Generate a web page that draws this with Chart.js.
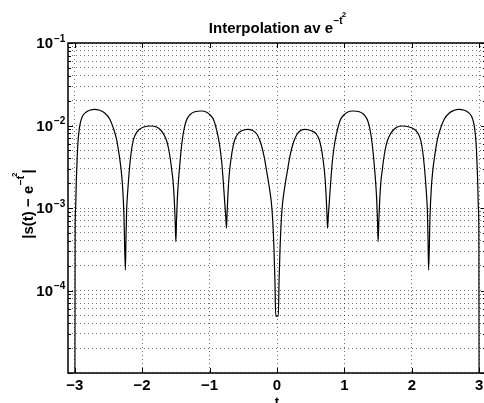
<!DOCTYPE html>
<html lang="sv">
<head>
<meta charset="UTF-8">
<title>Interpolation av e^-t^2</title>
<script src="https://cdn.jsdelivr.net/npm/chart.js"></script>
<style>
  html, body { margin: 0; padding: 0; background: #fff; overflow: hidden; }
  #wrap { position: relative; width: 490px; height: 403px; }
</style>
</head>
<body>
<div id="wrap"><canvas id="graf"></canvas></div>
<script>
// t och felet |s(t) - e^{-t^2}| (en rad per båge)
const tValues = [
  -3.000, -2.994, -2.987, -2.976, -2.964, -2.953, -2.935, -2.912, -2.883, -2.838, -2.779, -2.705, -2.631, -2.556, -2.482, -2.423, -2.378, -2.341, -2.312, -2.289, -2.270, -2.249,
  -2.240, -2.230, -2.215, -2.200, -2.185, -2.160, -2.134, -2.104, -2.052, -1.978, -1.878, -1.785, -1.726, -1.674, -1.636, -1.607, -1.580, -1.558, -1.543, -1.525, -1.512, -1.500,
  -1.491, -1.479, -1.467, -1.454, -1.436, -1.414, -1.384, -1.347, -1.295, -1.220, -1.122, -1.043, -0.984, -0.939, -0.899, -0.869, -0.843, -0.820, -0.801, -0.785, -0.772, -0.761, -0.749,
  -0.740, -0.728, -0.717, -0.702, -0.680, -0.653, -0.628, -0.583, -0.524, -0.435, -0.361, -0.300, -0.257, -0.220, -0.187, -0.159, -0.134, -0.108, -0.083, -0.064, -0.046, -0.031, -0.019,
  0.019, 0.031, 0.046, 0.064, 0.083, 0.108, 0.134, 0.159, 0.187, 0.220, 0.257, 0.300, 0.350, 0.420, 0.510, 0.583, 0.628, 0.653, 0.680, 0.702, 0.717, 0.728, 0.740, 0.749,
  0.761, 0.772, 0.785, 0.801, 0.820, 0.843, 0.869, 0.899, 0.939, 0.984, 1.043, 1.125, 1.220, 1.295, 1.347, 1.384, 1.414, 1.436, 1.454, 1.467, 1.479, 1.491, 1.500,
  1.512, 1.525, 1.543, 1.558, 1.580, 1.607, 1.636, 1.674, 1.726, 1.785, 1.855, 1.960, 2.052, 2.104, 2.134, 2.160, 2.185, 2.200, 2.215, 2.230, 2.240, 2.249,
  2.270, 2.289, 2.312, 2.341, 2.378, 2.423, 2.482, 2.556, 2.631, 2.690, 2.779, 2.838, 2.883, 2.912, 2.935, 2.953, 2.964, 2.976, 2.987, 2.994, 3.000
];
const errValues = [
  1e-7, 5.4e-4, 1.0e-3, 2.2e-3, 4.0e-3, 6.1e-3, 8.8e-3, 0.0112, 0.0130, 0.0144, 0.0153, 0.0157, 0.0153, 0.0142, 0.0120, 9.1e-3, 6.7e-3, 4.4e-3, 2.9e-3, 1.75e-3, 8.2e-4, 1.77e-4,
  4.3e-4, 9.5e-4, 1.56e-3, 2.31e-3, 3.23e-3, 4.91e-3, 6.49e-3, 7.67e-3, 8.82e-3, 9.59e-3, 9.86e-3, 9.59e-3, 8.82e-3, 7.67e-3, 6.49e-3, 5.19e-3, 3.82e-3, 2.73e-3, 2.18e-3, 1.32e-3, 7.6e-4, 3.9e-4,
  6.8e-4, 1.25e-3, 1.85e-3, 2.58e-3, 3.82e-3, 5.80e-3, 8.58e-3, 0.01134, 0.01340, 0.01466, 0.01499, 0.01450, 0.01322, 0.01166, 9.07e-3, 7.05e-3, 5.19e-3, 3.61e-3, 2.31e-3, 1.52e-3, 1.06e-3, 8.0e-4, 5.7e-4,
  8.9e-4, 1.44e-3, 2.07e-3, 2.89e-3, 4.04e-3, 5.49e-3, 6.67e-3, 7.89e-3, 8.63e-3, 8.99e-3, 8.70e-3, 7.89e-3, 6.67e-3, 5.34e-3, 4.04e-3, 2.97e-3, 2.25e-3, 1.65e-3, 1.15e-3, 7.2e-4, 3.4e-4, 1.34e-4, 4.9e-5,
  4.9e-5, 1.34e-4, 3.4e-4, 7.2e-4, 1.15e-3, 1.65e-3, 2.25e-3, 2.97e-3, 4.04e-3, 5.34e-3, 6.67e-3, 7.89e-3, 8.70e-3, 8.99e-3, 8.63e-3, 7.89e-3, 6.67e-3, 5.49e-3, 4.04e-3, 2.89e-3, 2.07e-3, 1.44e-3, 8.9e-4, 5.7e-4,
  8.0e-4, 1.06e-3, 1.52e-3, 2.31e-3, 3.61e-3, 5.19e-3, 7.05e-3, 9.07e-3, 0.01166, 0.01322, 0.01450, 0.01499, 0.01466, 0.01340, 0.01134, 8.58e-3, 5.80e-3, 3.82e-3, 2.58e-3, 1.85e-3, 1.25e-3, 6.8e-4, 3.9e-4,
  7.6e-4, 1.32e-3, 2.18e-3, 2.73e-3, 3.82e-3, 5.19e-3, 6.49e-3, 7.67e-3, 8.82e-3, 9.59e-3, 9.86e-3, 9.59e-3, 8.82e-3, 7.67e-3, 6.49e-3, 4.91e-3, 3.23e-3, 2.31e-3, 1.56e-3, 9.5e-4, 4.3e-4, 1.77e-4,
  8.2e-4, 1.75e-3, 2.9e-3, 4.4e-3, 6.7e-3, 9.1e-3, 0.0120, 0.0142, 0.0153, 0.0157, 0.0153, 0.0144, 0.0130, 0.0112, 8.8e-3, 6.1e-3, 4.0e-3, 2.2e-3, 1.0e-3, 5.4e-4, 1e-7
];

const xTicks = [-3, -2, -1, 0, 1, 2, 3];
const yDecades = [1e-5, 1e-4, 1e-3, 1e-2, 1e-1];
const yMinor = [2, 3, 4, 5, 6, 7, 8, 9];
const yLabelExps = [-1, -2, -3, -4];

const FONT = '"Liberation Sans", Arial, Helvetica, sans-serif';
const MINUS = '\u2212';

// alla rutnätslinjer i y (dekader + 2..9)
const yGrid = [];
yDecades.forEach((d, i) => {
  yGrid.push(d);
  if (i < yDecades.length - 1) yMinor.forEach(m => yGrid.push(m * d));
});

const points = tValues.map((t, i) => ({ x: t, y: errValues[i] }));

// matlab-liknande axlar: ram, inåtvända streck och texter med exponenter
const axesPlugin = {
  id: 'matlabAxes',
  afterDatasetsDraw(chart) {
    const { ctx, chartArea: a, scales: { x, y } } = chart;
    ctx.save();
    ctx.strokeStyle = '#000';
    ctx.lineWidth = 1;
    ctx.beginPath();
    xTicks.forEach(v => {
      const px = Math.round(x.getPixelForValue(v)) + 0.5;
      ctx.moveTo(px, a.bottom); ctx.lineTo(px, a.bottom - 5);
      ctx.moveTo(px, a.top); ctx.lineTo(px, a.top + 5);
    });
    yGrid.forEach(v => {
      const py = Math.round(y.getPixelForValue(v)) + 0.5;
      const len = yDecades.includes(v) ? 5 : 3;
      ctx.moveTo(a.left, py); ctx.lineTo(a.left + len, py);
      ctx.moveTo(a.right, py); ctx.lineTo(a.right - len, py);
    });
    ctx.stroke();
    ctx.lineWidth = 1.5;
    ctx.strokeRect(a.left, a.top, a.right - a.left, a.bottom - a.top);

    ctx.fillStyle = '#000';
    ctx.textBaseline = 'alphabetic';

    // y-tick: 10^-k
    yLabelExps.forEach(k => {
      const py = y.getPixelForValue(Math.pow(10, k));
      ctx.font = 'bold 15px ' + FONT;
      ctx.textAlign = 'right';
      ctx.fillText('10', 53, py + 5);
      ctx.font = 'bold 10px ' + FONT;
      ctx.textAlign = 'left';
      ctx.fillText(MINUS + Math.abs(k), 54, py - 1.5);
    });

    // titel
    const cx = (a.left + a.right) / 2;
    ctx.textAlign = 'left';
    ctx.font = 'bold 15px ' + FONT;
    const main = 'Interpolation av e';
    const wMain = ctx.measureText(main).width;
    ctx.font = 'bold 10px ' + FONT;
    const sup = MINUS + 't';
    const wSup = ctx.measureText(sup).width;
    let x0 = cx - (wMain + wSup + 3) / 2;
    ctx.font = 'bold 15px ' + FONT;
    ctx.fillText(main, x0, 33);
    ctx.font = 'bold 10px ' + FONT;
    ctx.fillText(sup, x0 + wMain + 0.5, 24);
    ctx.font = 'bold 8px ' + FONT;
    ctx.fillText('2', x0 + wMain + wSup - 0.5, 17);

    // y-axelns text, roterad
    ctx.save();
    ctx.translate(33, (a.top + a.bottom) / 2 - 4);
    ctx.rotate(-Math.PI / 2);
    ctx.font = 'bold 15px ' + FONT;
    const p1 = '|s(t) ' + MINUS + ' e';
    const w1 = ctx.measureText(p1).width;
    ctx.font = 'bold 10px ' + FONT;
    const w2 = ctx.measureText(sup).width;
    ctx.font = 'bold 15px ' + FONT;
    const w3 = ctx.measureText('|').width;
    const tot = w1 + w2 + 3 + w3;
    let s = -tot / 2;
    ctx.fillText(p1, s, 0);
    ctx.font = 'bold 10px ' + FONT;
    ctx.fillText(sup, s + w1 + 0.5, -9);
    ctx.font = 'bold 8px ' + FONT;
    ctx.fillText('2', s + w1 + w2 - 0.5, -16);
    ctx.font = 'bold 15px ' + FONT;
    ctx.fillText('|', s + w1 + w2 + 3, 0);
    ctx.restore();

    // x-axelns text
    ctx.font = 'bold 13px ' + FONT;
    ctx.textAlign = 'center';
    ctx.fillText('t', cx, 406);
    ctx.restore();
  }
};

new Chart(document.getElementById('graf'), {
  type: 'line',
  data: {
    datasets: [{
      data: points,
      borderColor: '#000',
      borderWidth: 1.2,
      pointRadius: 0,
      fill: false,
      cubicInterpolationMode: 'monotone'
    }]
  },
  options: {
    responsive: true,
    maintainAspectRatio: false,
    animation: false,
    layout: { padding: { top: 43, right: 4, left: 0, bottom: 0 } },
    plugins: { legend: { display: false }, title: { display: false }, tooltip: { enabled: false } },
    scales: {
      x: {
        type: 'linear',
        min: -3.1,
        max: 3.1,
        afterBuildTicks: scale => { scale.ticks = xTicks.map(v => ({ value: v })); },
        afterFit: scale => { scale.height = 30; },
        grid: { color: 'rgba(0,0,0,0.55)', lineWidth: 1, drawTicks: false },
        border: { display: false, dash: [1, 3] },
        ticks: {
          autoSkip: false,
          maxRotation: 0,
          padding: 4,
          color: '#000',
          font: { family: FONT, size: 15, weight: 'bold' },
          callback: v => (v < 0 ? MINUS + Math.abs(v) : String(v))
        }
      },
      y: {
        type: 'logarithmic',
        min: 1e-5,
        max: 1e-1,
        afterBuildTicks: scale => { scale.ticks = yGrid.map(v => ({ value: v })); },
        afterFit: scale => { scale.width = 68; },
        grid: { color: 'rgba(0,0,0,0.55)', lineWidth: 1, drawTicks: false },
        border: { display: false, dash: [1, 3] },
        ticks: { display: false }
      }
    }
  },
  plugins: [axesPlugin]
});
</script>
</body>
</html>
